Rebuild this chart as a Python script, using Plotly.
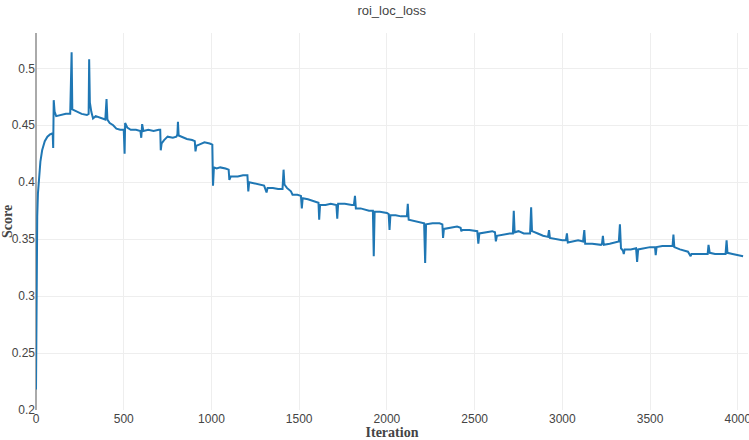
import plotly.graph_objects as go

iterations = [
    0, 2, 4, 7, 11, 17, 25, 35, 50, 65, 80, 95, 98, 101, 106, 115, 140, 170, 195, 203, 207, 230, 260, 290, 300,
    303, 307, 315, 325, 340, 370, 395, 402, 407, 420, 440, 458, 480, 500, 505, 508, 520, 540, 570, 595, 600,
    605, 612, 640, 670, 700, 708, 711, 716, 730, 750, 780, 800, 806, 809, 813, 830, 860, 890, 905, 909, 914,
    930, 960, 990, 1005, 1009, 1014, 1030, 1050, 1080, 1098, 1102, 1110, 1150, 1180, 1205, 1210, 1215, 1250,
    1280, 1300, 1314, 1320, 1350, 1380, 1405, 1411, 1416, 1430, 1453, 1462, 1490, 1510, 1515, 1520, 1550,
    1595, 1610, 1614, 1619, 1650, 1680, 1712, 1717, 1722, 1760, 1800, 1812, 1818, 1823, 1850, 1898, 1920,
    1925, 1930, 1960, 2000, 2010, 2015, 2020, 2050, 2080, 2114, 2119, 2124, 2150, 2180, 2212, 2218, 2223,
    2260, 2300, 2316, 2320, 2325, 2360, 2400, 2420, 2424, 2430, 2470, 2515, 2521, 2527, 2560, 2600, 2616,
    2621, 2627, 2660, 2700, 2718, 2723, 2728, 2750, 2780, 2816, 2822, 2827, 2860, 2890, 2918, 2924, 2929,
    2960, 3000, 3020, 3026, 3031, 3060, 3090, 3118, 3125, 3130, 3170, 3220, 3226, 3231, 3236, 3270, 3300,
    3322, 3328, 3334, 3345, 3350, 3355, 3390, 3420, 3426, 3432, 3470, 3500, 3528, 3532, 3537, 3570, 3600,
    3628, 3633, 3638, 3670, 3700, 3716, 3731, 3736, 3770, 3800, 3828, 3833, 3840, 3870, 3900, 3930, 3936,
    3941, 3970, 4000, 4030,
]

scores = [
    0.218, 0.300, 0.345, 0.370, 0.390, 0.405, 0.418, 0.428, 0.436, 0.440, 0.442, 0.443, 0.430, 0.472, 0.462,
    0.458, 0.459, 0.460, 0.460, 0.514, 0.464, 0.462, 0.460, 0.459, 0.460, 0.508, 0.470, 0.462, 0.456, 0.458,
    0.456, 0.455, 0.473, 0.455, 0.452, 0.450, 0.447, 0.446, 0.446, 0.425, 0.452, 0.448, 0.446, 0.446, 0.445,
    0.439, 0.451, 0.445, 0.446, 0.445, 0.446, 0.446, 0.428, 0.434, 0.437, 0.440, 0.439, 0.440, 0.442, 0.453,
    0.441, 0.440, 0.438, 0.437, 0.436, 0.427, 0.432, 0.433, 0.435, 0.434, 0.433, 0.397, 0.413, 0.412, 0.413,
    0.412, 0.411, 0.402, 0.405, 0.405, 0.406, 0.406, 0.392, 0.400, 0.399, 0.398, 0.397, 0.391, 0.395, 0.395,
    0.394, 0.394, 0.411, 0.398, 0.395, 0.392, 0.389, 0.389, 0.388, 0.377, 0.386, 0.385, 0.383, 0.382, 0.367,
    0.380, 0.380, 0.381, 0.380, 0.368, 0.381, 0.381, 0.380, 0.380, 0.388, 0.377, 0.377, 0.375, 0.375, 0.335,
    0.374, 0.374, 0.373, 0.372, 0.358, 0.371, 0.371, 0.370, 0.370, 0.381, 0.367, 0.366, 0.365, 0.364, 0.329,
    0.363, 0.364, 0.364, 0.363, 0.351, 0.359, 0.360, 0.361, 0.360, 0.357, 0.358, 0.358, 0.357, 0.346, 0.355,
    0.356, 0.357, 0.356, 0.348, 0.353, 0.354, 0.355, 0.355, 0.375, 0.356, 0.357, 0.355, 0.355, 0.378, 0.357,
    0.355, 0.353, 0.352, 0.358, 0.351, 0.350, 0.349, 0.349, 0.355, 0.347, 0.348, 0.349, 0.348, 0.358, 0.346,
    0.346, 0.345, 0.346, 0.353, 0.345, 0.346, 0.347, 0.348, 0.363, 0.342, 0.340, 0.337, 0.341, 0.341, 0.342,
    0.330, 0.341, 0.342, 0.343, 0.343, 0.336, 0.343, 0.344, 0.344, 0.344, 0.354, 0.343, 0.341, 0.340, 0.339,
    0.335, 0.337, 0.337, 0.337, 0.337, 0.345, 0.338, 0.337, 0.337, 0.337, 0.349, 0.338, 0.337, 0.336, 0.335,
]

fig = go.Figure(
    go.Scatter(x=iterations, y=scores, mode="lines",
               line=dict(color="#1f77b4", width=2), showlegend=False)
)

axis_title_font = dict(family="Liberation Serif", size=14, color="#444", weight="bold")

fig.update_layout(
    template="none",
    width=749, height=440,
    margin=dict(l=36, r=1, t=33, b=30, autoexpand=False),
    paper_bgcolor="white", plot_bgcolor="white",
    title=dict(text="roi_loc_loss", x=0.523, xanchor="center", y=0.977, yanchor="middle",
               font=dict(family="Liberation Sans", size=13, color="#444")),
    font=dict(family="Liberation Sans", size=12, color="#444"),
    xaxis=dict(title=dict(text="Iteration", font=axis_title_font, standoff=4),
               range=[0, 4058], dtick=500, showgrid=True, gridcolor="#eee",
               zeroline=True, zerolinecolor="#aaa", zerolinewidth=2, ticks="", showline=False,
               automargin=False, ticklabeloverflow="allow"),
    yaxis=dict(title=dict(text="Score", font=axis_title_font, standoff=4),
               range=[0.2, 0.531], dtick=0.05, showgrid=True, gridcolor="#eee",
               zeroline=False, ticks="", showline=False, automargin=False,
               ticklabeloverflow="allow"),
)

fig.write_html("out.html", config={"displayModeBar": False},
               post_script="document.body.style.margin='0px';")
